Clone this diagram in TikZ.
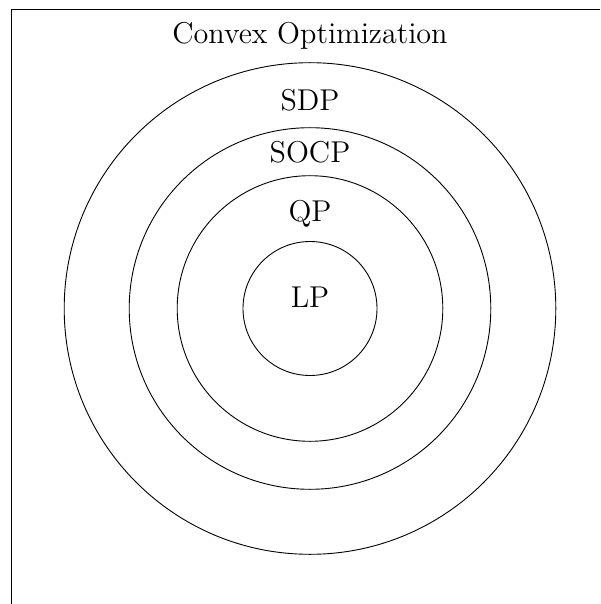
\documentclass[tikz,border=0pt]{standalone}
\begin{document}
\begin{tikzpicture}[x=0.5pt,y=-0.5pt,
  lab/.style={anchor=base,inner sep=0pt,font=\Large,scale=1.045,transform shape},
  ring/.style={draw=black,line width=0.45pt}]
\useasboundingbox (0,0) rectangle (600,604);
% frame
\coordinate (fbl) at (11.3,604);
\coordinate (ftl) at (11.3,9.5);
\coordinate (ftr) at (600,9.5);
\draw[line width=0.5pt] (fbl) -- (ftl) -- (ftr);
% circles
\coordinate (c) at (310,308.5);
\draw[ring] (c) circle (122.9pt);
\draw[ring] (c) circle (90.4pt);
\draw[ring] (c) circle (66.4pt);
\draw[ring] (c) circle (33.5pt);
% labels
\node[lab] (conv) at (310,43.3) {Convex Optimization};
\node[lab] (sdp) at (310,111) {SDP};
\node[lab] (socp) at (310,162.3) {SOCP};
\node[lab] (qp) at (310,221.7) {QP};
\node[lab] (lp) at (310,307.3) {LP};
\end{tikzpicture}
\end{document}
